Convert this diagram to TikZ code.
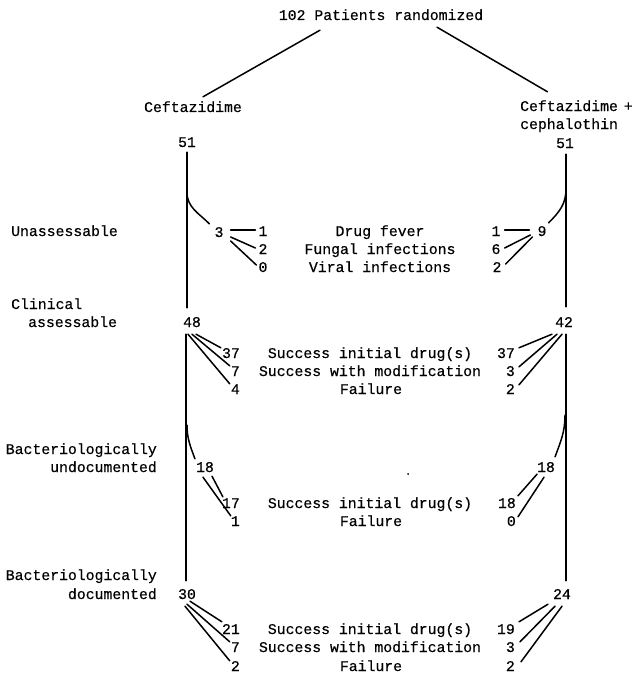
\documentclass[tikz,border=0pt]{standalone}
\usepackage{fontspec}
\newfontfamily\tw[FakeBold=0.4]{Liberation Mono}
\usetikzlibrary{calc}
\begin{document}
\begin{tikzpicture}[x=1pt,y=-1pt,
  every node/.style={font=\tw\fontsize{14.8}{18}\selectfont, inner sep=1pt, text height=10pt, text depth=0pt},
  ln/.style={line width=1.5pt, line cap=round},
  lft/.style={anchor=east},
  rgt/.style={anchor=east}]
\useasboundingbox (0,0) rectangle (635,674);
% header
\node (title) at (381,15) {102 Patients randomized};
\node (ceftL) at (193,107) {Ceftazidime};
\node[anchor=west] (ceftR) at (519,106) {Ceftazidime\hspace{6pt}+};
\node[anchor=west] (cephR) at (519,124) {cephalothin};
\node (n51L) at (187,142) {51};
\node (n51R) at (565,143) {51};
% side labels
\node[anchor=west] (lbU) at (10,231) {Unassessable};
\node[anchor=west] (lbC1) at (10,304) {Clinical};
\node[anchor=west] (lbC2) at (27,322) {assessable};
\node[anchor=east] (lbB1) at (158,449) {Bacteriologically};
\node[anchor=east] (lbB2) at (158,467) {undocumented};
\node[anchor=east] (lbD1) at (158,575) {Bacteriologically};
\node[anchor=east] (lbD2) at (158,594) {documented};
% unassessable block
\node (n3L) at (219,232) {3};
\node (u1L) at (263,231) {1};
\node (u2L) at (263,249) {2};
\node (u0L) at (263,267) {0};
\node (tU1) at (380,231) {Drug  fever};
\node (tU2) at (380,249) {Fungal infections};
\node (tU3) at (380,267) {Viral  infections};
\node (u1R) at (496,231) {1};
\node (u6R) at (496,249) {6};
\node (u2R) at (497,267) {2};
\node (n9R) at (542,231) {9};
% clinical block
\node (n48L) at (192,322) {48};
\node (n42R) at (564,322) {42};
\node[lft] (c37L) at (241,353) {37};
\node[lft] (c7L) at (241,371) {7};
\node[lft] (c4L) at (241,389) {4};
\node (tC1) at (370,353) {Success initial drug(s)};
\node (tC2) at (370,371) {Success with modification};
\node (tC3) at (371,389) {Failure};
\node[rgt] (c37R) at (516,353) {37};
\node[rgt] (c3R) at (516,371) {3};
\node[rgt] (c2R) at (516,389) {2};
% undocumented block
\node (n18L) at (205,467) {18};
\node (n18R) at (546,467) {18};
\node[lft] (b17L) at (241,503) {17};
\node[lft] (b1L) at (241,521) {1};
\node (tB1) at (370,503) {Success initial drug(s)};
\node (tB2) at (371,521) {Failure};
\node[rgt] (b18R) at (517,503) {18};
\node[rgt] (b0R) at (517,521) {0};
\fill (408,474) circle (1);
% documented block
\node (n30L) at (187,594) {30};
\node (n24R) at (562,594) {24};
\node[lft] (d21L) at (241,629) {21};
\node[lft] (d7L) at (241,647) {7};
\node[lft] (d2L) at (241,666) {2};
\node (tD1) at (370,629) {Success initial drug(s)};
\node (tD2) at (370,647) {Success with modification};
\node (tD3) at (371,666) {Failure};
\node[rgt] (d19R) at (516,629) {19};
\node[rgt] (d3R) at (516,647) {3};
\node[rgt] (d2R) at (516,666) {2};

% connectors
\draw[ln] ($(title.south)+(-61,9)$) -- ($(ceftL.north)+(10,-4)$);
\draw[ln] ($(title.south)+(56,6)$) -- ($(ceftR.north)+(-29,-8)$);
% main verticals
\draw[ln] ($(n51L.south)+(0,4)$) -- ($(n51L.south |- n48L.north)+(0,-8)$);
\draw[ln] ($(n51L.south |- n48L.south)+(-1,6)$) -- ($(n51L.south |- n30L.north)+(-1,-7)$);
\draw[ln] ($(n51R.south)+(1,5)$) -- ($(n51R.south |- n42R.north)+(1,-9)$);
\draw[ln] ($(n51R.south |- n42R.south)+(1,6)$) -- ($(n51R.south |- n24R.north)+(1,-7)$);
% branch curves
\draw[ln] ($(n51L.south)+(0,44)$) to[out=-90,in=135] ($(n3L.north west)+(-4,-2)$);
\draw[ln] ($(n51R.south)+(1,40)$) to[out=-90,in=45] ($(n9R.north east)+(1,-2)$);
\draw[ln] ($(n51L.south |- n48L.south)+(0,97)$) to[out=-90,in=110] ($(n18L.north west)+(0,-2)$);
\draw[ln] ($(n51R.south |- n42R.south)+(0,87)$) to[out=-90,in=70] ($(n18R.north east)+(-1,-4)$);
% unassessable fans
\draw[ln] ($(n3L.east)+(6,-2)$) -- ($(u1L.west)+(-2,-1)$);
\draw[ln] ($(n3L.east)+(6,5)$) -- ($(u2L.west)+(-2,-1)$);
\draw[ln] ($(n3L.east)+(6,9)$) -- ($(u0L.west)+(-1,-2)$);
\draw[ln] ($(u1R.east)+(3,-1)$) -- ($(n9R.west)+(-7,-1)$);
\draw[ln] ($(n9R.west)+(-6,4)$) -- ($(u6R.east)+(3,-1)$);
\draw[ln] ($(n9R.west)+(-4,6)$) -- ($(u2R.east)+(3,-3)$);
% clinical fans
\draw[ln] ($(n48L.south)+(4,6)$) -- ($(c37L.north west)+(0,1)$);
\draw[ln] ($(n48L.south)+(0,6)$) -- ($(c7L.north west)+(0,1)$);
\draw[ln] ($(n48L.south)+(-4,6)$) -- ($(c4L.north west)+(0,1)$);
\draw[ln] ($(n42R.south)+(-12,6)$) -- ($(c37R.north east)+(3,1)$);
\draw[ln] ($(n42R.south)+(-7,6)$) -- ($(c3R.north east)+(3,2)$);
\draw[ln] ($(n42R.south)+(-2,6)$) -- ($(c2R.north east)+(3,2)$);
% undocumented fans
\draw[ln] ($(n18L.south)+(7,3)$) -- ($(b17L.north west)+(2,0)$);
\draw[ln] ($(n18L.south)+(-2,4)$) -- ($(b1L.north west)+(1,1)$);
\draw[ln] ($(n18R.south)+(-9,1)$) -- ($(b18R.north east)+(1,-1)$);
\draw[ln] ($(n18R.south)+(-2,4)$) -- ($(b0R.north east)+(1,2)$);
% documented fans
\draw[ln] ($(n30L.south)+(3,1)$) -- ($(d21L.north west)+(1,-1)$);
\draw[ln] ($(n30L.south)+(0,4)$) -- ($(d7L.north west)+(0,1)$);
\draw[ln] ($(n30L.south)+(-2,6)$) -- ($(d2L.north west)+(0,1)$);
\draw[ln] ($(n24R.south)+(-14,4)$) -- ($(d19R.north east)+(3,-1)$);
\draw[ln] ($(n24R.south)+(-7,6)$) -- ($(d3R.north east)+(4,1)$);
\draw[ln] ($(n24R.south)+(0,6)$) -- ($(d2R.north east)+(5,2)$);
\end{tikzpicture}
\end{document}
